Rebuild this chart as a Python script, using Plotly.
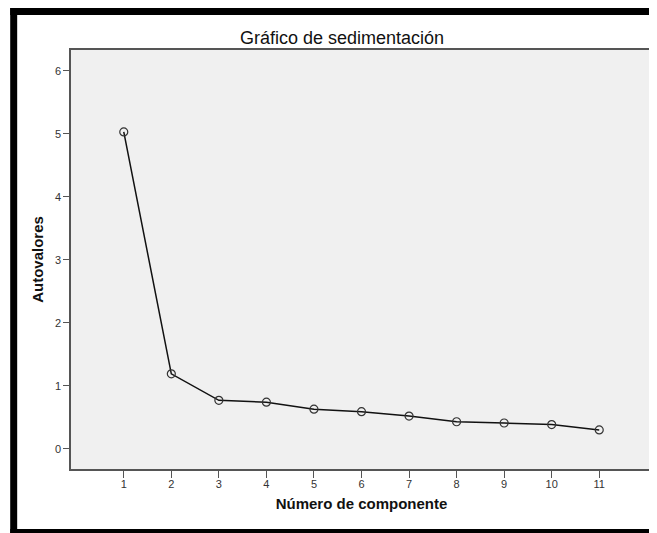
import plotly.graph_objects as go

components = [1, 2, 3, 4, 5, 6, 7, 8, 9, 10, 11]
eigenvalues = [5.03, 1.19, 0.77, 0.74, 0.63, 0.59, 0.52, 0.43, 0.41, 0.385, 0.30]
x_ticks = [1, 2, 3, 4, 5, 6, 7, 8, 9, 10, 11]
y_ticks = [0, 1, 2, 3, 4, 5, 6]

# the page puts the figure 8px in from the top-left corner
OFF = 8
W, H = 657 - OFF, 533 - OFF
L, R, T, B = 71 - OFF, 3, 50 - OFF, 64
pw, ph = W - L - R, H - T - B

def px(x):
    return (x - OFF - L) / pw

def py(y):
    return (H - B - (y - OFF)) / ph

FONT = "Arial, Liberation Sans, sans-serif"

fig = go.Figure()
fig.add_trace(go.Scatter(
    x=components, y=eigenvalues, mode="lines+markers",
    line=dict(color="#111111", width=1.5),
    marker=dict(symbol="circle-open", size=8, color="#333333", line=dict(width=1.2, color="#333333")),
    showlegend=False, hoverinfo="x+y",
))

axis_common = dict(
    showgrid=False, zeroline=False, showline=True, mirror=True,
    linecolor="#555555", linewidth=1.5,
    ticks="outside", tickcolor="#555555", tickwidth=1,
    tickfont=dict(family=FONT, size=11, color="#333333"),
)

fig.update_layout(
    width=W, height=H,
    margin=dict(l=L, r=R, t=T, b=B),
    paper_bgcolor="white", plot_bgcolor="#f0f0f0",
    title=dict(text="Gráfico de sedimentación", x=(342 - OFF) / W, xanchor="center",
               y=1 - (38 - OFF) / H, yanchor="middle", yref="container",
               font=dict(family=FONT, size=18, color="#111111")),
    xaxis=dict(range=[-0.11, 12.11], tickvals=x_ticks, ticklen=7, ticklabelstandoff=-3,
               title=dict(text="<b>Número de componente</b>", standoff=10,
                          font=dict(family=FONT, size=15, color="#111111")),
               **axis_common),
    yaxis=dict(range=[-0.32, 6.33], tickvals=y_ticks, ticklen=6,
               title=dict(text="<b>Autovalores</b>", standoff=8,
                          font=dict(family=FONT, size=15, color="#111111")),
               **axis_common),
    shapes=[
        dict(type="rect", xref="paper", yref="paper", layer="above",
             x0=px(10), x1=px(657), y0=py(15), y1=py(6),
             fillcolor="black", line=dict(width=0)),
        dict(type="rect", xref="paper", yref="paper", layer="above",
             x0=px(10), x1=px(17), y0=py(533), y1=py(6),
             fillcolor="black", line=dict(width=0)),
        dict(type="rect", xref="paper", yref="paper", layer="above",
             x0=px(10), x1=px(657), y0=py(533), y1=py(529),
             fillcolor="black", line=dict(width=0)),
    ],
)

fig.write_html("out.html")
